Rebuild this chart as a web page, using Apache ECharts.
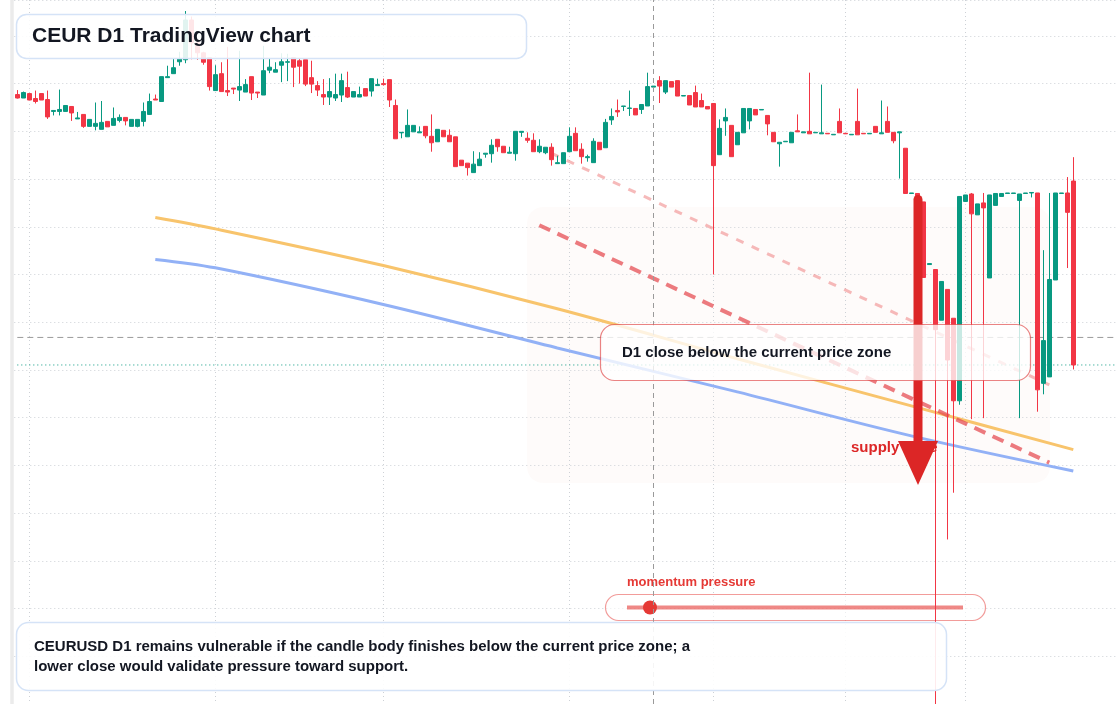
<!DOCTYPE html>
<html><head><meta charset="utf-8">
<script src="https://cdn.jsdelivr.net/npm/echarts@6/dist/echarts.min.js"></script>
<style>html,body{margin:0;padding:0;background:#fff}#c{width:1120px;height:704px}</style>
</head><body><div id="c"></div>
<script>
// ---- data (daily candles, CEURUSD D1) ----
const OPEN = [1.0981,1.09775,1.0982,1.0977,1.0982,1.0976,1.0964,1.0964,1.0964,1.0969,
1.09565,1.0961,1.0949,1.0949,1.0946,1.0954,1.0950,1.0955,1.0958,1.0949,
1.0949,1.0954,1.0961,1.09765,1.0974,1.0998,1.1002,1.1014,1.1016,1.1056,
1.1033,1.1023,1.1018,1.0985,1.1002,1.0985,1.09875,1.09855,1.09835,1.0999,
1.09835,1.09805,1.10055,1.10035,1.10105,1.10135,1.1018,1.1015,1.1016,1.0998,
1.0990,1.0981,1.09785,1.09775,1.09805,1.0988,1.09785,1.09785,1.0987,1.09845,
1.0990,1.0992,1.0996,1.0970,1.09425,1.09385,1.09435,1.09425,1.0949,1.0939,
1.09335,1.0945,1.0940,1.09385,1.0915,1.0912,1.09025,1.09095,1.0921,1.09215,
1.0936,1.0929,1.0922,1.09215,1.0943,1.0937,1.0935,1.09235,1.09225,1.0928,
1.09115,1.09115,1.09235,1.0942,1.0926,1.09175,1.09125,1.0933,1.09275,1.09555,
1.0965,1.0969,1.0967,1.0967,1.0966,1.09695,1.09885,1.0995,1.09835,1.0994,
1.0995,1.09795,1.0980,1.0983,1.0975,1.0969,1.0972,1.09205,1.09545,1.0950,
1.09305,1.09425,1.09545,1.0966,1.09655,1.0960,1.0943,1.09315,1.09335,1.09325,
1.09445,1.09425,1.0944,1.09425,1.09415,1.0942,1.09405,1.0954,1.0942,1.09405,
1.0954,1.0942,1.09415,1.0949,1.09415,1.0954,1.0943,1.09425,1.0927,1.08815,
1.08815,1.0873,1.0810,1.0805,1.0754,1.0785,1.0756,1.0673,1.08735,1.0881,
1.0860,1.0872,1.07965,1.08695,1.08785,1.08815,1.08815,1.08745,1.08815,1.0882,
1.0882,1.06905,1.0697,1.07945,1.08815,1.0882,1.0894];
const CLOSE = [1.09775,1.0983,1.09755,1.0974,1.09755,1.09585,1.0965,1.0966,1.0970,1.09625,
1.09575,1.0949,1.0956,1.0952,1.0953,1.09485,1.0957,1.0958,1.09545,1.0956,
1.0956,1.0964,1.0974,1.09755,1.0999,1.0999,1.1008,1.1017,1.1056,1.1033,
1.1023,1.10135,1.0989,1.1001,1.0984,1.09835,1.09865,1.0989,1.0991,1.09825,
1.09825,1.1005,1.10085,1.1006,1.1014,1.1014,1.10085,1.10095,1.09915,1.09915,
1.09855,1.09785,1.0984,1.0981,1.0995,1.09785,1.0984,1.0981,1.09795,1.0997,
1.0991,1.0991,1.09755,1.09365,1.0943,1.0950,1.0950,1.09435,1.09395,1.09325,
1.0946,1.09385,1.09335,1.09085,1.09095,1.09075,1.0911,1.0916,1.0922,1.0930,
1.09285,1.09225,1.0923,1.0944,1.0944,1.0935,1.09235,1.0929,1.0928,1.09155,
1.09125,1.09225,1.0939,1.09245,1.09185,1.09185,1.0934,1.09255,1.0953,1.0959,
1.09635,1.09695,1.09675,1.09605,1.0971,1.0989,1.09895,1.09895,1.0995,1.09885,
1.09795,1.0980,1.09705,1.09685,1.09685,1.09665,1.09095,1.0947,1.0958,1.09185,
1.0943,1.0967,1.0967,1.09605,1.0966,1.09515,1.09335,1.0933,1.0934,1.0943,
1.09435,1.09435,1.09415,1.0943,1.09425,1.09415,1.0941,1.09425,1.09415,1.0941,
1.09405,1.09415,1.0942,1.0943,1.09425,1.0943,1.09345,1.09435,1.08815,1.0882,
1.0873,1.0797,1.0811,1.07445,1.0793,1.0714,1.0673,1.08785,1.0880,1.0861,
1.0871,1.0867,1.0880,1.08815,1.08815,1.0882,1.0882,1.0881,1.0882,1.08825,
1.0684,1.07335,1.0795,1.0882,1.0882,1.08625,1.0709];
const LOW = [1.0977,1.09775,1.09755,1.0972,1.09755,1.09565,1.0960,1.0960,1.0964,1.09545,
1.09565,1.09475,1.0949,1.0945,1.0946,1.09485,1.0950,1.0953,1.0950,1.0949,
1.0948,1.0949,1.0961,1.09755,1.0974,1.0998,1.1002,1.1010,1.10125,1.10165,
1.1016,1.1011,1.0985,1.0985,1.0984,1.09795,1.09815,1.09745,1.09835,1.09755,
1.09775,1.09805,1.10025,1.10035,1.09935,1.09945,1.09885,1.0992,1.09895,1.09825,
1.09795,1.09705,1.09705,1.09745,1.09735,1.09775,1.09785,1.09785,1.09795,1.0979,
1.0990,1.0990,1.09685,1.09365,1.0937,1.09385,1.09435,1.09425,1.0937,1.09235,
1.09335,1.09385,1.09335,1.09085,1.09095,1.08995,1.09025,1.09095,1.09175,1.09125,
1.09235,1.09225,1.0922,1.09145,1.09385,1.09325,1.09235,1.0922,1.0921,1.09095,
1.09115,1.09115,1.09235,1.09245,1.09115,1.09135,1.09125,1.09255,1.09275,1.09505,
1.09585,1.09645,1.09595,1.09605,1.09615,1.09695,1.09885,1.09725,1.09815,1.09885,
1.09795,1.09795,1.09705,1.09685,1.09685,1.09665,1.0800,1.09205,1.09395,1.09185,
1.09305,1.09425,1.0946,1.09605,1.09655,1.0940,1.09335,1.09085,1.09335,1.09325,
1.09435,1.09425,1.09415,1.09425,1.09415,1.09415,1.09405,1.09425,1.09415,1.09405,
1.09405,1.09415,1.09415,1.0943,1.09415,1.0943,1.0932,1.08965,1.08815,1.08815,
1.0870,1.0797,1.0810,1.0353,1.0754,1.05335,1.05805,1.0669,1.0873,1.06545,
1.0860,1.06555,1.07965,1.08695,1.08785,1.08815,1.08815,1.06555,1.08815,1.08775,
1.0662,1.06795,1.0697,1.07945,1.08815,1.08065,1.07045];
const HIGH = [1.09855,1.0984,1.0982,1.0985,1.0982,1.0985,1.0965,1.0986,1.0970,1.0969,
1.09635,1.0961,1.0956,1.0973,1.09745,1.0954,1.0968,1.0961,1.0958,1.0956,
1.0956,1.0973,1.0982,1.0981,1.0999,1.1010,1.1017,1.1024,1.1065,1.10595,
1.1036,1.1024,1.1018,1.10105,1.10135,1.1029,1.09875,1.1025,1.09965,1.0999,
1.09835,1.1030,1.10175,1.10135,1.10225,1.1022,1.1018,1.10175,1.1016,1.1015,
1.09945,1.09965,1.09975,1.1002,1.1002,1.1004,1.0984,1.0989,1.0987,1.0997,
1.0997,1.0997,1.0996,1.0976,1.0943,1.0966,1.0950,1.0949,1.0949,1.0961,
1.0946,1.0945,1.0946,1.09385,1.0915,1.0912,1.0924,1.0923,1.0922,1.0936,
1.0936,1.0929,1.09285,1.0944,1.0944,1.0943,1.0942,1.0936,1.0928,1.0932,
1.09195,1.09225,1.0948,1.0948,1.0932,1.09205,1.0937,1.0933,1.09565,1.0967,
1.0976,1.09695,1.0985,1.0967,1.0971,1.1003,1.09895,1.09995,1.0995,1.0994,
1.0995,1.0980,1.0980,1.0990,1.0982,1.0969,1.0972,1.0956,1.0967,1.0950,
1.0943,1.0967,1.0967,1.0966,1.0966,1.0960,1.0943,1.0933,1.0934,1.0943,
1.0961,1.09435,1.1003,1.0943,1.0991,1.0942,1.0941,1.0967,1.0942,1.0941,
1.0987,1.0942,1.0942,1.0949,1.0975,1.0969,1.0943,1.09435,1.0927,1.0882,
1.08815,1.0873,1.0811,1.0805,1.0793,1.0785,1.0756,1.08785,1.0880,1.0882,
1.0871,1.0882,1.0880,1.08815,1.08815,1.0882,1.0882,1.0881,1.0882,1.08825,
1.0882,1.08245,1.0882,1.0882,1.0882,1.0898,1.0918];

// moving averages / trend lines: [candle index, price]
const MA_FAST = [[23,1.08573],[33,1.08459],[61,1.0809],[90,1.07655],[120,1.07153],[149,1.06679],[176,1.06239]];
const MA_SLOW = [[23,1.08152],[33,1.08067],[61,1.07698],[90,1.07261],[120,1.06819],[149,1.06377],[176,1.06024]];
const TREND_MAIN = [[87,1.08496],[172,1.06108]];
const TREND_UPPER = [[89,1.0922],[172,1.0689]];
const CROSSHAIR_INDEX = 106;
const CROSSHAIR_PRICE = 1.07367;
const TIME_GRID_INDEX = [2,33,61,92,116,138,158];
const RIGHT_PAD_BARS = 7;
const START_DAY = Date.UTC(2022, 11, 30);

const categories = [];
for (let i = 0; i < OPEN.length + RIGHT_PAD_BARS; i++) {
  categories.push(new Date(START_DAY + i * 86400000).toISOString().slice(0, 10));
}
const lastIndex = categories.length - 1;
const candles = OPEN.map((o, i) => [o, CLOSE[i], LOW[i], HIGH[i]]);
const lastClose = CLOSE[CLOSE.length - 1];

const UP = '#089981', DOWN = '#f23645', ARROW = '#dc2626';
const FONT = '"Liberation Sans", Arial, Helvetica, sans-serif';
const chart = echarts.init(document.getElementById('c'), null, {renderer: 'canvas'});
chart.setOption({
  animation: false,
  backgroundColor: '#ffffff',
  grid: {left: 14.3, right: 1.7, top: 0, bottom: -1},
  xAxis: {
    type: 'category', data: categories, boundaryGap: true,
    axisLine: {show: false}, axisTick: {show: false}, axisLabel: {show: false},
    splitLine: {show: true, alignWithLabel: true, interval: (i) => TIME_GRID_INDEX.includes(i),
      lineStyle: {color: '#cdd1d6', width: 1, type: [1, 3]}}
  },
  yAxis: {
    type: 'value', min: 1.0368, max: 1.10761, interval: 0.0048, position: 'left', offset: 2.5,
    axisLine: {show: true, lineStyle: {color: '#ebebeb', width: 3.5}},
    axisTick: {show: false}, axisLabel: {show: false},
    splitLine: {show: true, lineStyle: {color: '#cdd1d6', width: 1, type: [1, 3]}}
  },
  series: [
    {type: 'line', name: 'Crosshair price', data: [[0, CROSSHAIR_PRICE], [lastIndex, CROSSHAIR_PRICE]],
      showSymbol: false, silent: true, z: 1, lineStyle: {color: '#9a9a9a', width: 1, type: [6, 4]}},
    {type: 'line', name: 'Last price', data: [[0, lastClose], [lastIndex, lastClose]],
      showSymbol: false, silent: true, z: 1, lineStyle: {color: UP, width: 1, type: [1, 3]}},
    {type: 'line', name: 'MA fast', data: MA_FAST, smooth: 0.35, showSymbol: false, z: 2,
      lineStyle: {color: '#f8c46c', width: 3}},
    {type: 'line', name: 'MA slow', data: MA_SLOW, smooth: 0.35, showSymbol: false, z: 2,
      lineStyle: {color: '#92b1f6', width: 3}},
    {type: 'line', name: 'Trend upper', data: TREND_UPPER, showSymbol: false, z: 2,
      lineStyle: {color: 'rgba(238,130,130,0.55)', width: 3, type: [8, 9]}},
    {type: 'line', name: 'Trend', data: TREND_MAIN, showSymbol: false, z: 2,
      lineStyle: {color: 'rgba(229,72,77,0.72)', width: 4, type: [12, 8]}},
    {type: 'candlestick', name: 'CEURUSD', data: candles, barWidth: 4, clip: false, z: 3,
      itemStyle: {color: UP, color0: DOWN, borderColor: UP, borderColor0: DOWN, borderWidth: 1},
      markLine: {
        silent: true, symbol: ['none', 'none'], label: {show: false},
        data: [
          {xAxis: CROSSHAIR_INDEX, lineStyle: {color: '#9a9a9a', width: 1, type: [5, 4]}}
        ]
      }}
  ],
  graphic: [
    {type: 'rect', z: 0, shape: {x: 527, y: 207, width: 523, height: 276, r: 16},
      style: {fill: 'rgba(246,222,205,0.11)'}},
    {type: 'rect', z: 1, shape: {x: 605.5, y: 594.5, width: 380, height: 26, r: 13},
      style: {fill: 'rgba(255,255,255,0.6)', stroke: 'rgba(229,57,53,0.5)', lineWidth: 1.2}},
    {type: 'line', z: 1, shape: {x1: 627, y1: 607.5, x2: 963, y2: 607.5},
      style: {stroke: 'rgba(229,57,53,0.6)', lineWidth: 4}},
    {type: 'circle', z: 1, shape: {cx: 650, cy: 607.5, r: 7}, style: {fill: '#e53935'}},
    {type: 'text', z: 1, style: {text: 'momentum pressure', x: 627, y: 582, verticalAlign: 'middle',
      font: 'bold 13px ' + FONT, fill: '#e53935'}},
    {type: 'text', z: 9, style: {text: 'supply zone', x: 851, y: 448, verticalAlign: 'middle',
      font: 'bold 15px ' + FONT, fill: ARROW}},
    {type: 'rect', z: 10, shape: {x: 913.5, y: 195, width: 9, height: 250, r: [4.5, 4.5, 0, 0]},
      style: {fill: ARROW}},
    {type: 'polygon', z: 10, shape: {points: [[898, 441], [938, 441], [918, 485]]},
      style: {fill: ARROW}},
    {type: 'rect', z: 20, shape: {x: 600.5, y: 324.5, width: 430, height: 56, r: 14},
      style: {fill: 'rgba(255,255,255,0.78)', stroke: 'rgba(220,50,50,0.6)', lineWidth: 1.2}},
    {type: 'text', z: 21, style: {text: 'D1 close below the current price zone', x: 622, y: 353,
      verticalAlign: 'middle', font: 'bold 15px ' + FONT, fill: '#131722'}},
    {type: 'rect', z: 20, shape: {x: 16.5, y: 14.5, width: 510, height: 44, r: 10},
      style: {fill: 'rgba(255,255,255,0.88)', stroke: '#d5e3f7', lineWidth: 1.5}},
    {type: 'text', z: 21, style: {text: 'CEUR D1 TradingView chart', x: 32, y: 36,
      verticalAlign: 'middle', font: 'bold 21px ' + FONT, fill: '#131722'}},
    {type: 'rect', z: 20, shape: {x: 16.5, y: 622.5, width: 930, height: 68, r: 12},
      style: {fill: 'rgba(255,255,255,0.9)', stroke: '#d5e3f7', lineWidth: 1.5}},
    {type: 'text', z: 21, style: {text: 'CEURUSD D1 remains vulnerable if the candle body finishes below the current price zone; a\nlower close would validate pressure toward support.',
      x: 34, y: 637, verticalAlign: 'top', lineHeight: 20, font: 'bold 15px ' + FONT, fill: '#131722'}}
  ]
});
</script></body></html>
